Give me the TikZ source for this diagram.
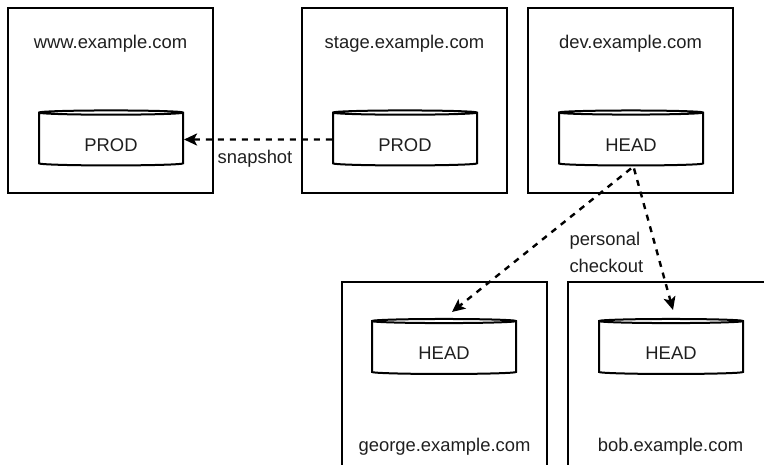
\documentclass[tikz,border=0pt]{standalone}
\usepackage{fontspec}
\setmainfont{Liberation Sans}
\usetikzlibrary{shapes.geometric,arrows.meta}
\colorlet{ink}{black!88}
\tikzset{
  host/.style = {draw,line width=2.2pt,minimum width=205pt,minimum height=185pt,inner sep=0pt},
  hostname/.style = {anchor=base,text=ink,font=\fontsize{18.4}{22}\selectfont},
  db/.style = {draw,cylinder,shape border rotate=90,aspect=0.08,line width=2pt,
    minimum width=144pt,minimum height=55pt,inner sep=0pt,text height=23pt,text depth=0pt,
    text=ink,font=\fontsize{18.4}{22}\selectfont},
  flow/.style = {dash pattern=on 6pt off 6pt,line width=2.4pt,-{Stealth[length=13pt,width=12pt,inset=3pt]}}
}
\tikzset{>=latex}
\begin{document}
\begin{tikzpicture}[x=1pt,y=-1pt]
  \useasboundingbox (0,0) rectangle (764,464);
  % top row
  \node[host] (www) at (110.5,100.5) {};
  \node[host] (stage) at (404.5,100.5) {};
  \node[host] (dev) at (630.5,100.5) {};
  \node[hostname] at (110.5,48) {www.example.com};
  \node[hostname] at (404.5,48) {stage.example.com};
  \node[hostname] at (630.5,48) {dev.example.com};
  \node[db] (wwwdb) at (111,139.5) {PROD};
  \node[db] (stagedb) at (405,139.5) {PROD};
  \node[db] (devdb) at (631,139.5) {HEAD};
  % bottom row
  \node[host] (george) at (444.5,374.5) {};
  \node[host] (bob) at (670.5,374.5) {};
  \node[hostname] at (444.5,451) {george.example.com};
  \node[hostname] at (670.5,451) {bob.example.com};
  \node[db] (georgedb) at (444,348) {HEAD};
  \node[db] (bobdb) at (671,348) {HEAD};
  % snapshot
  \draw[flow] (stagedb) -- (wwwdb);
  \node[hostname] at (255,163) {snapshot};
  % checkouts
  \draw[flow] ([yshift=-2pt]devdb.south) -- ([xshift=8pt,yshift=6pt]georgedb.north);
  \draw[flow] ([xshift=3pt,yshift=-2pt]devdb.south) -- ([xshift=2pt,yshift=8pt]bobdb.north);
  \node[hostname,anchor=base west] at (566,245) {personal};
  \node[hostname,anchor=base west] at (566,272) {checkout};
\end{tikzpicture}
\end{document}
